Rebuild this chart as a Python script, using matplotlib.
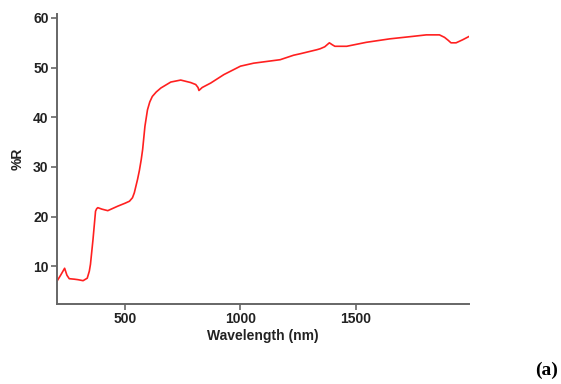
import matplotlib
matplotlib.use("Agg")
import matplotlib.pyplot as plt

# Espectro de reflectancia
wavelength = [205, 222, 238, 248, 258, 280, 296, 318, 336, 345, 350, 361, 372, 377, 382,
              400, 425, 468, 500, 519, 532, 540, 554, 562, 570, 576, 586, 597, 607, 618,
              635, 655, 698, 741, 784, 806, 816, 820, 834, 871, 928, 1000, 1057, 1172,
              1230, 1259, 1330, 1345, 1365, 1385, 1398, 1409, 1460, 1545, 1647, 1747,
              1805, 1862, 1884, 1900, 1912, 1934, 1962, 1991]
reflectance = [7.0, 8.3, 9.6, 8.2, 7.5, 7.4, 7.3, 7.1, 7.6, 9.0, 10.4, 15.4, 21.1, 21.6, 21.8,
               21.5, 21.2, 22.1, 22.7, 23.1, 23.8, 24.8, 27.5, 29.3, 31.5, 33.5, 38.2, 41.5, 43.1, 44.2,
               45.1, 45.9, 47.1, 47.5, 47.0, 46.6, 46.0, 45.4, 46.0, 46.9, 48.6, 50.3, 50.9, 51.6,
               52.5, 52.8, 53.6, 53.8, 54.2, 55.0, 54.6, 54.3, 54.3, 55.1, 55.8, 56.3,
               56.6, 56.6, 56.1, 55.5, 55.0, 55.0, 55.6, 56.3]

plt.rcParams["font.family"] = ["Liberation Sans", "DejaVu Sans"]

fig = plt.figure(figsize=(5.61, 3.84), dpi=100)
ax = fig.add_axes([0.1016, 0.2083, 0.7344, 0.7552])

ax.plot(wavelength, reflectance, color="#ff2020", linewidth=1.2)

ax.set_xlim(205, 1990)
ax.set_ylim(2.4, 60.8)
ax.set_xticks([500, 1000, 1500])
ax.set_yticks([10, 20, 30, 40, 50, 60])

for s in ["top", "right"]:
    ax.spines[s].set_visible(False)
for s in ["left", "bottom"]:
    ax.spines[s].set_color("#666666")
    ax.spines[s].set_linewidth(1.4)

ax.tick_params(direction="out", length=4, width=1.2, color="#666666",
               labelsize=10, labelcolor="#222222", pad=2)
for lab in ax.get_xticklabels() + ax.get_yticklabels():
    lab.set_fontweight("bold")

ax.set_xlabel("Wavelength (nm)", fontsize=10, fontweight="bold", color="#222222", labelpad=2)
ax.set_ylabel("%R", fontsize=10, fontweight="bold", color="#222222", labelpad=6)

fig.text(0.995, 0.012, "(a)", fontsize=14, fontweight="bold",
         family=["Liberation Serif", "DejaVu Serif"], ha="right", va="bottom")

plt.savefig("out.png", dpi=100)
plt.close()
